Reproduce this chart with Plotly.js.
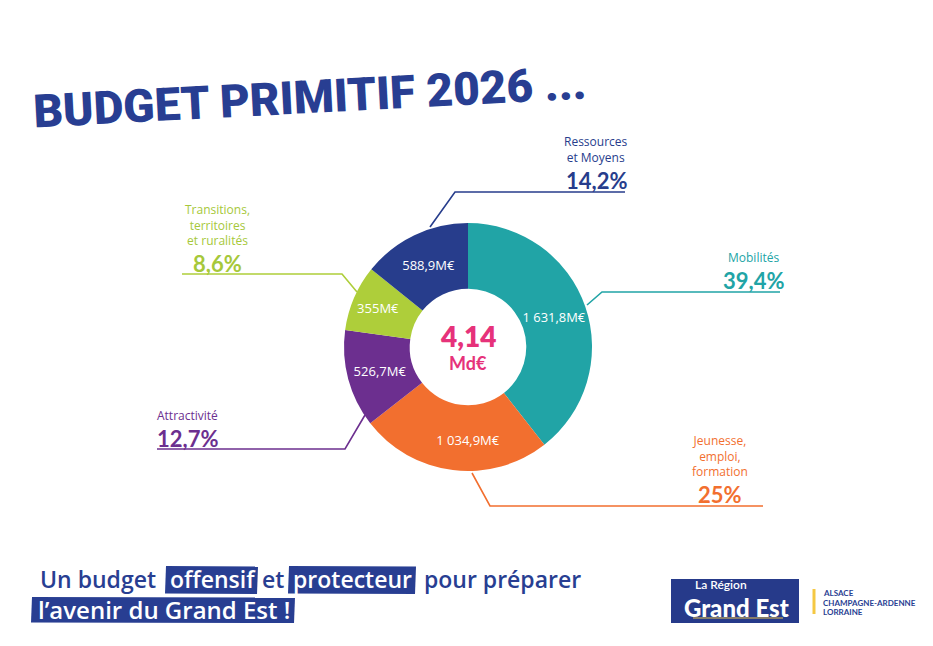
<!DOCTYPE html>
<html>
<head>
<meta charset="utf-8">
<script src="https://cdn.plot.ly/plotly-3.0.1.min.js"></script>
<style>html,body{margin:0;padding:0;background:#fff;}#chart{width:933px;height:646px;}</style>
</head>
<body>
<div id="chart"></div>
<script>
// ---- DATA ----
const categories = ['Mobilités', 'Jeunesse, emploi, formation', 'Attractivité', 'Transitions, territoires et ruralités', 'Ressources et Moyens'];
const categoryLines = [['Mobilités'], ['Jeunesse,', 'emploi,', 'formation'], ['Attractivité'], ['Transitions,', 'territoires', 'et ruralités'], ['Ressources', 'et Moyens']];
const values = [1631.8, 1034.9, 526.7, 355, 588.9];
const valueLabels = ['1 631,8M€', '1 034,9M€', '526,7M€', '355M€', '588,9M€'];
const percentLabels = ['39,4%', '25%', '12,7%', '8,6%', '14,2%'];
const totalValue = '4,14';
const totalUnit = 'Md€';
const titleText = 'BUDGET PRIMITIF 2026 ...';
const sloganLine1 = ['Un budget', 'offensif', 'et', 'protecteur', 'pour préparer'];
const sloganLine2 = 'l’avenir du Grand Est !';
const logoTexts = ['La Région', 'Grand Est', 'ALSACE', 'CHAMPAGNE-ARDENNE', 'LORRAINE'];

// ---- STYLE / LAYOUT CONFIG ----
const W = 933, H = 646;
const colors = ['#21A4A6', '#F26F2F', '#6C2F8F', '#AECE3A', '#273D8C'];
const textColors = ['#21A4A6', '#F26F2F', '#6C2F8F', '#A6C83A', '#273D8C'];
const navy = '#283E92';
const pink = '#E6327A';
const FONT = 'Lato, "Open Sans", sans-serif';
const FONT2 = '"Open Sans", Lato, sans-serif';
const cx = 468, cy = 347, R = 124;

// label placement per category: x, label centre y, percent y, leader path
const place = [
  {x: 753, ly: 257, py: 280, path: [[587, 305], [602, 292], [780, 292]]},
  {x: 720, ly: 456, py: 494, path: [[472, 473], [490, 506], [763, 506]]},
  {x: 187, ly: 415, py: 438, path: [[365, 415], [345, 449], [157, 449]]},
  {x: 217, ly: 225, py: 263, path: [[357, 292], [342, 274], [182, 274]]},
  {x: 596, ly: 149, py: 180, path: [[430, 227], [455, 192], [625, 192]]}
];

const shapes = [];
const annotations = [];

place.forEach((p, i) => {
  const d = p.path.map((pt, k) => (k ? 'L' : 'M') + pt[0] + ',' + pt[1]).join(' ');
  shapes.push({type: 'path', xref: 'x', yref: 'y', path: d, line: {color: colors[i], width: 1.6}});
  annotations.push({xref: 'x', yref: 'y', x: p.x, y: p.ly, text: categoryLines[i].join('<br>'), showarrow: false,
    align: 'center', xanchor: 'center', yanchor: 'middle', font: {family: FONT2, size: 12, color: textColors[i], weight: 500}});
  annotations.push({xref: 'x', yref: 'y', x: p.x, y: p.py, text: percentLabels[i], showarrow: false,
    xanchor: 'center', yanchor: 'middle', font: {family: FONT, size: 22, color: textColors[i], weight: 700}});
});

// centre
annotations.push({xref: 'x', yref: 'y', x: cx, y: 336, text: totalValue, showarrow: false, yanchor: 'middle',
  font: {family: FONT, size: 28, color: pink, weight: 800}});
annotations.push({xref: 'x', yref: 'y', x: cx, y: 363, text: totalUnit, showarrow: false, yanchor: 'middle',
  font: {family: FONT, size: 18, color: pink, weight: 700}});

// title
annotations.push({xref: 'x', yref: 'y', x: 310, y: 97, text: titleText, showarrow: false, textangle: -3,
  xanchor: 'center', yanchor: 'middle',
  font: {family: 'Roboto, "Liberation Sans", sans-serif', size: 46, color: navy, weight: 900}});

// slogan boxes
function skewBox(x0, y0, x1, y1) {
  return {type: 'path', xref: 'x', yref: 'y', path: `M${x0 + 1},${y0} L${x1 + 1},${y0 + 0.5} L${x1},${y1} L${x0},${y1 - 0.5} Z`,
    fillcolor: navy, line: {width: 0}, layer: 'below'};
}
shapes.push(skewBox(165, 566, 257, 594));
shapes.push(skewBox(288, 566, 415, 594));
shapes.push(skewBox(31, 597, 294, 623));
const sloganX = [38, 168, 260, 291, 422];
const sloganCol = [navy, '#fff', navy, '#fff', navy];
sloganLine1.forEach((t, i) => {
  annotations.push({xref: 'x', yref: 'y', x: sloganX[i], y: 579, text: t, showarrow: false, xanchor: 'left', yanchor: 'middle',
    font: {family: FONT2, size: 23, color: sloganCol[i], weight: 600}});
});
annotations.push({xref: 'x', yref: 'y', x: 36, y: 609, text: sloganLine2, showarrow: false, xanchor: 'left', yanchor: 'middle',
  font: {family: FONT2, size: 24, color: '#fff', weight: 600}});

// logo
shapes.push({type: 'rect', xref: 'x', yref: 'y', x0: 671, x1: 799, y0: 579, y1: 623, fillcolor: '#263A8A', line: {width: 0}, layer: 'below'});
shapes.push({type: 'line', xref: 'x', yref: 'y', x0: 693, x1: 783, y0: 618, y1: 618, line: {color: '#E9C24A', width: 1}});
shapes.push({type: 'rect', xref: 'x', yref: 'y', x0: 812.5, x1: 815.5, y0: 589, y1: 614, fillcolor: '#F5C843', line: {width: 0}});
annotations.push({xref: 'x', yref: 'y', x: 721, y: 593, text: logoTexts[0], showarrow: false, yanchor: 'bottom', borderpad: 0,
  font: {family: FONT, size: 12, color: '#fff', weight: 600}});
annotations.push({xref: 'x', yref: 'y', x: 736, y: 592, text: logoTexts[1], showarrow: false, yanchor: 'top', borderpad: 0,
  font: {family: FONT, size: 24, color: '#fff', weight: 900}});
[2, 3, 4].forEach((k, j) => {
  annotations.push({xref: 'x', yref: 'y', x: 821, y: 593 + j * 9.5, text: logoTexts[k], showarrow: false, xanchor: 'left', yanchor: 'middle',
    font: {family: FONT, size: 8, color: navy, weight: 700}});
});

const trace = {
  type: 'pie',
  labels: categories,
  values: values,
  text: valueLabels,
  textinfo: 'text',
  textposition: 'inside',
  insidetextorientation: 'horizontal',
  textfont: {family: FONT2, size: 13, color: '#fff', weight: 500},
  hole: 0.47,
  sort: false,
  direction: 'clockwise',
  rotation: 0,
  marker: {colors: colors, line: {width: 0}},
  hoverinfo: 'none',
  showlegend: false,
  domain: {x: [(cx - R) / W, (cx + R) / W], y: [1 - (cy + R) / H, 1 - (cy - R) / H]}
};

const layout = {
  width: W, height: H,
  margin: {l: 0, r: 0, t: 0, b: 0},
  paper_bgcolor: '#fff', plot_bgcolor: 'rgba(0,0,0,0)',
  xaxis: {range: [0, W], visible: false, fixedrange: true},
  yaxis: {range: [H, 0], visible: false, fixedrange: true},
  showlegend: false,
  shapes: shapes,
  annotations: annotations
};

Plotly.newPlot('chart', [trace], layout, {displayModeBar: false, staticPlot: true});
</script>
</body>
</html>
